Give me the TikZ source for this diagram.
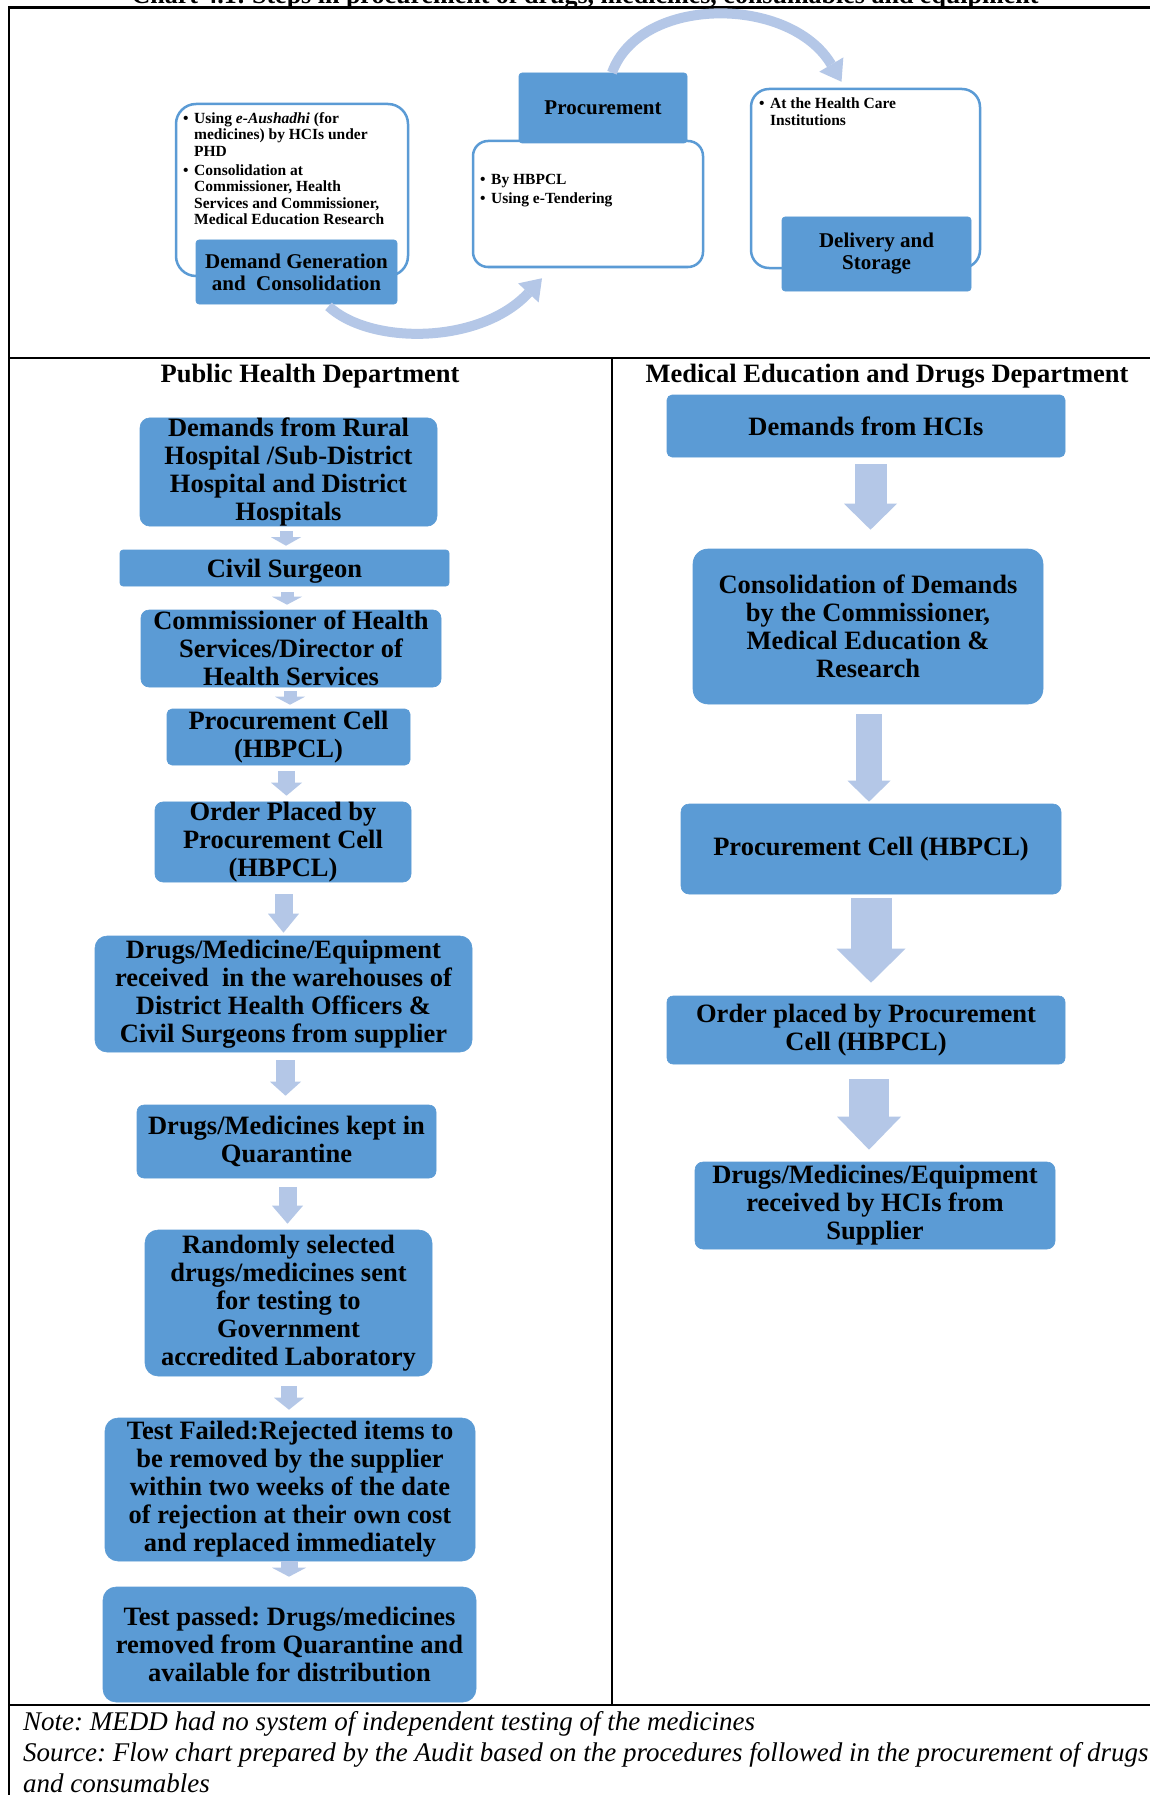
\documentclass[tikz,border=0pt]{standalone}
\usepackage{fontspec}
\setmainfont{Liberation Serif}
\usetikzlibrary{arrows.meta}
\definecolor{boxblue}{HTML}{5B9BD5}
\definecolor{arrblue}{HTML}{B4C7E7}
\newcommand\bxfont{\bfseries\fontsize{26.5}{28}\selectfont}
\newcommand\lblfont{\bfseries\fontsize{21}{22}\selectfont}
\newcommand\smfont{\bfseries\fontsize{15.5}{16.5}\selectfont}
\newcommand\notefont{\itshape\fontsize{27}{31}\selectfont}
\newcommand\bul{\makebox[11pt][l]{\textbullet}}
\newcommand\ind{\hspace*{11pt}}
\frenchspacing
\begin{document}
\begin{tikzpicture}[x=1pt,y=-1pt,
  box/.style={fill=boxblue, draw=boxblue, line width=0.6pt, inner sep=0pt, align=center, font=\bxfont, text=black},
  wbox/.style={draw=boxblue, line width=2.5pt, fill=white, inner sep=0pt},
  smtxt/.style={inner sep=0pt, align=left, font=\smfont},
  head/.style={inner sep=0pt, font=\bxfont},
  notetxt/.style={inner sep=0pt, font=\notefont},
  frame/.style={draw=black, line width=2.5pt},
  varr/.style n args={3}{draw=arrblue, line width=#1, -{Triangle[width=#2,length=#3,line width=0pt]}},
  curvarr/.style={draw=arrblue, line width=10pt, -{Triangle[width=28pt,length=20pt,line width=0pt]}}]
\useasboundingbox (0,0) rectangle (1149,1795);
\fill[white] (0,0) rectangle (1149,1795);

% clipped title (only its lower edge shows in the reference)
\begin{scope}
\clip (0,0) rectangle (1149,1795);
\node[anchor=base, font=\bfseries\fontsize{26}{28}\selectfont, inner sep=0pt] (title) at (585,4) {Chart 4.1: Steps in procurement of drugs, medicines, consumables and equipment};
\end{scope}

% frame
\draw[frame] (9,7.5) -- (1160,7.5);
\draw[frame] (9,6.25) -- (9,1800);
\draw[frame] (9,358) -- (1160,358);
\draw[frame] (9,1705) -- (1160,1705);
\draw[frame] (612,358) -- (612,1705);

% ---------- top cycle ----------
\node[wbox, minimum width=232pt, minimum height=172pt, rounded corners=20pt] (tlw) at (292,190) {};
\node[wbox, minimum width=230pt, minimum height=126pt, rounded corners=15pt] (prw) at (588,204) {};
\node[wbox, minimum width=229pt, minimum height=179pt, rounded corners=18pt] (dsw) at (865.5,178.5) {};

\node[box, font=\lblfont, minimum width=201pt, minimum height=64pt, rounded corners=3pt] (dg) at (296.5,272) {Demand Generation\\and\ \ Consolidation};
\node[box, font=\lblfont, minimum width=168pt, minimum height=70pt, rounded corners=3pt] (pr) at (603,108) {Procurement};
\node[box, font=\lblfont, minimum width=189pt, minimum height=74pt, rounded corners=3pt] (ds) at (876.5,254) {Delivery and\\Storage};

\node[smtxt, anchor=north west] (tlt) at (183,112) {\bul Using \textit{e-Aushadhi} (for\\\ind medicines) by HCIs under\\\ind PHD\\[2.5pt]\bul Consolidation at\\\ind Commissioner, Health\\\ind Services and Commissioner,\\\ind Medical Education Research};
\node[smtxt, anchor=north west] (prt) at (480,174) {\bul By HBPCL\\[2.5pt]\bul Using e-Tendering};
\node[smtxt, anchor=north west] (dst) at (759,98) {\bul At the Health Care\\\ind Institutions};

\draw[curvarr] ([xshift=32pt,yshift=-2pt]dg.south) .. controls (370,345) and (480,345) .. ([xshift=-46pt,yshift=-10pt]prw.south);
\draw[curvarr] ([xshift=9pt]pr.north) .. controls (640,-5) and (790,-5) .. ([xshift=-24pt,yshift=6pt]dsw.north);

% ---------- headings ----------
\node[head] (phd) at (310,376) {Public Health Department};
\node[head] (medd) at (887,376) {Medical Education and Drugs Department};

% ---------- left column ----------
\node[box, minimum width=297pt, minimum height=108pt, rounded corners=10pt] (L1) at (288.5,472) {Demands from Rural\\Hospital /Sub-District\\Hospital and District\\Hospitals};
\node[box, minimum width=329pt, minimum height=36pt, rounded corners=3pt] (L2) at (284.5,568) {\raisebox{-3pt}[\height][\depth]{Civil Surgeon}};
\node[box, minimum width=300pt, minimum height=77pt, rounded corners=8pt] (L3) at (291,648.5) {Commissioner of Health\\Services/Director of\\Health Services};
\node[box, minimum width=243pt, minimum height=56pt, rounded corners=5pt] (L4) at (288.5,737) {Procurement Cell\\(HBPCL)};
\node[box, minimum width=256pt, minimum height=80pt, rounded corners=8pt] (L5) at (283,842) {Order Placed by\\Procurement Cell\\(HBPCL)};
\node[box, minimum width=377pt, minimum height=116pt, rounded corners=12pt] (L6) at (283.5,994) {Drugs/Medicine/Equipment\\received\ \ in the warehouses of\\District Health Officers \&\\Civil Surgeons from supplier};
\node[box, minimum width=299pt, minimum height=73pt, rounded corners=7pt] (L7) at (286.5,1141.5) {Drugs/Medicines kept in\\Quarantine};
\node[box, minimum width=287pt, minimum height=146pt, rounded corners=13pt] (L8) at (288.5,1303) {Randomly selected\\drugs/medicines sent\\for testing to\\Government\\accredited Laboratory};
\node[box, minimum width=370pt, minimum height=143pt, rounded corners=13pt] (L9) at (290,1489.5) {Test Failed:Rejected items to\\be removed by the supplier\\within two weeks of the date\\of rejection at their own cost\\and replaced immediately};
\node[box, minimum width=373pt, minimum height=115pt, rounded corners=13pt] (L10) at (289.5,1644.5) {Test passed: Drugs/medicines\\removed from Quarantine and\\available for distribution};

\draw[varr={13pt}{30pt}{8.5pt}] ([xshift=-2.5pt,yshift=-5pt]L1.south) -- ([xshift=1.5pt,yshift=4pt]L2.north);
\draw[varr={13pt}{30pt}{8pt}] ([xshift=2.5pt,yshift=-6pt]L2.south) -- ([xshift=-4pt,yshift=5pt]L3.north);
\draw[varr={13pt}{30pt}{8pt}] ([xshift=-1pt,yshift=-4pt]L3.south) -- ([xshift=1.5pt,yshift=4pt]L4.north);
\draw[varr={17pt}{31pt}{13pt}] ([xshift=-2pt,yshift=-6pt]L4.south) -- ([xshift=3.5pt,yshift=6pt]L5.north);
\draw[varr={18pt}{31pt}{19pt}] ([xshift=0.5pt,yshift=-12pt]L5.south) -- ([xshift=0pt,yshift=3pt]L6.north);
\draw[varr={19pt}{31pt}{14pt}] ([xshift=2pt,yshift=-8pt]L6.south) -- ([xshift=-1pt,yshift=9pt]L7.north);
\draw[varr={18pt}{31pt}{18pt}] ([xshift=1pt,yshift=-9pt]L7.south) -- ([xshift=-1pt,yshift=6pt]L8.north);
\draw[varr={16pt}{30pt}{12pt}] ([xshift=0.5pt,yshift=-10pt]L8.south) -- ([xshift=-1pt,yshift=8pt]L9.north);
\draw[varr={17pt}{34pt}{9pt}] ([xshift=-1pt,yshift=0pt]L9.south) -- ([xshift=-0.5pt,yshift=10pt]L10.north);

% ---------- right column ----------
\node[box, minimum width=398pt, minimum height=62pt, rounded corners=5pt] (R1) at (866,426) {Demands from HCIs};
\node[box, minimum width=350pt, minimum height=155pt, rounded corners=15pt] (R2) at (868,626.5) {Consolidation of Demands\\by the Commissioner,\\Medical Education \&\\Research};
\node[box, minimum width=380pt, minimum height=90pt, rounded corners=8pt] (R3) at (871,849) {Procurement Cell (HBPCL)};
\node[box, minimum width=398pt, minimum height=68pt, rounded corners=6pt] (R4) at (866,1030) {Order placed by Procurement\\Cell (HBPCL)};
\node[box, minimum width=360pt, minimum height=87pt, rounded corners=8pt] (R5) at (875,1205.5) {Drugs/Medicines/Equipment\\received by HCIs from\\Supplier};

\draw[varr={32pt}{53pt}{26pt}] ([xshift=4.5pt,yshift=-7pt]R1.south) -- ([xshift=2.5pt,yshift=19pt]R2.north);
\draw[varr={26pt}{43pt}{21pt}] ([xshift=1pt,yshift=-10pt]R2.south) -- ([xshift=-2pt,yshift=2pt]R3.north);
\draw[varr={41pt}{69pt}{34pt}] ([xshift=0pt,yshift=-4pt]R3.south) -- ([xshift=5pt,yshift=13pt]R4.north);
\draw[varr={40pt}{64pt}{33pt}] ([xshift=3pt,yshift=-15pt]R4.south) -- ([xshift=-6pt,yshift=12pt]R5.north);

% ---------- notes ----------
\node[notetxt, anchor=base west] (note) at (23,1730) {Note: MEDD had no system of independent testing of the medicines};
\node[notetxt, anchor=base west] (src) at (23,1761) {Source: Flow chart prepared by the Audit based on the procedures followed in the procurement of drugs};
\node[notetxt, anchor=base west] (src2) at (23,1792) {and consumables};
\end{tikzpicture}
\end{document}
